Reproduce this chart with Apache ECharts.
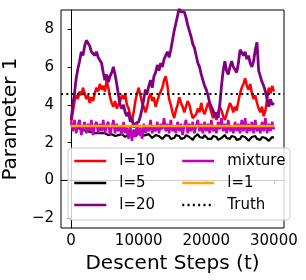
<!DOCTYPE html>
<html><head><meta charset="utf-8">
<script src="https://cdn.jsdelivr.net/npm/echarts@6/dist/echarts.min.js"></script>
<style>html,body{margin:0;padding:0;background:#fff}#c{width:306px;height:280px}</style>
</head><body><div id="c"></div>
<script>
// x grid step (descent steps) for sampled curves
const stepT = 250;
const xTicks = [0, 10000, 20000, 30000];
const yTicks = [-2, 0, 2, 4, 6, 8];
const seriesNames = ['l=10', 'l=5', 'l=20', 'mixture', 'l=1', 'Truth'];

const l10 = [3.1,3.6,4.2,4.5,4.3,4.7,4.5,4.9,4.6,4.3,4.5,4.1,4.4,4.2,4.6,4.9,4.7,5.1,4.8,5.0,
  4.7,5.3,4.9,4.4,4.1,3.9,4.2,3.8,3.7,4.2,4.5,4.3,4.6,4.0,3.8,3.4,3.2,3.6,4.2,4.6,
  4.9,4.5,4.1,3.9,3.6,3.9,4.4,4.6,4.2,4.4,3.9,4.2,4.5,4.6,4.9,5.3,5.5,5.0,4.3,4.0,
  3.6,3.3,3.7,4.0,4.4,4.1,3.9,3.6,3.9,4.2,4.0,3.6,3.3,3.2,3.5,3.8,3.6,4.1,3.7,3.5,
  3.8,4.1,3.9,3.6,3.3,3.5,3.2,3.6,3.9,3.7,3.4,3.2,3.5,3.8,4.1,3.9,3.6,3.9,3.7,4.2,
  4.6,4.9,5.1,5.4,5.0,4.8,5.1,4.6,4.3,4.5,4.1,3.8,3.6,3.9,3.4,3.7,4.3,4.9,4.6,5.0,4.7];

const l5 = [2.9,2.9,2.85,2.8,2.8,2.75,2.7,2.7,2.65,2.6,2.6,2.6,2.55,2.55,2.5,2.5,2.5,2.45,2.5,2.45,
  2.5,2.45,2.4,2.5,2.45,2.4,2.35,2.45,2.4,2.5,2.45,2.35,2.3,2.4,2.45,2.5,2.4,2.3,2.35,2.45,
  2.5,2.45,2.35,2.3,2.4,2.5,2.45,2.35,2.25,2.3,2.4,2.45,2.35,2.25,2.2,2.3,2.4,2.45,2.35,2.2,
  2.15,2.25,2.4,2.45,2.35,2.2,2.15,2.25,2.4,2.45,2.3,2.2,2.15,2.3,2.4,2.45,2.3,2.2,2.25,2.4,
  2.35,2.2,2.1,2.2,2.35,2.4,2.3,2.15,2.1,2.25,2.35,2.4,2.25,2.15,2.2,2.35,2.4,2.3,2.15,2.1,
  2.2,2.35,2.4,2.3,2.2,2.1,2.15,2.3,2.4,2.35,2.2,2.1,2.15,2.3,2.35,2.25,2.15,2.1,2.2,2.3,2.25];

const l20 = [3.2,4.0,4.6,5.4,5.9,6.3,6.8,6.6,7.1,7.4,7.3,7.1,6.8,6.9,6.6,6.8,6.5,6.6,6.2,5.7,
  5.3,5.6,5.2,5.5,5.7,6.0,5.6,5.1,4.5,4.0,3.8,4.0,3.6,3.4,3.6,3.1,3.3,2.8,3.0,2.9,
  3.1,3.4,3.8,4.3,4.8,4.6,5.0,5.3,4.9,5.5,5.7,6.1,5.8,6.2,6.0,6.4,6.3,6.8,6.5,6.9,
  7.4,7.9,8.3,8.7,9.1,8.9,8.8,8.9,8.6,8.2,7.9,7.6,7.2,7.0,6.6,6.2,6.0,5.6,5.3,5.0,
  4.8,4.5,4.1,4.0,3.7,3.4,3.6,3.3,4.0,5.0,5.8,6.3,5.8,5.6,6.0,6.3,6.0,5.9,5.7,6.2,
  6.9,7.0,6.6,6.8,6.4,6.6,6.2,6.0,6.3,6.9,7.3,5.8,5.5,5.2,5.0,4.7,4.3,3.9,4.3,4.0,4.1];

const mixture = [3.1,2.6,3.2,2.5,2.9,3.2,2.4,2.8,3.1,2.5,3.0,2.6,3.2,2.4,2.9,3.1,2.5,3.0,2.6,3.2,
  2.5,2.9,3.1,2.4,2.8,3.2,2.5,3.0,2.6,2.9,2.4,3.1,2.5,2.8,2.2,2.9,2.1,2.7,2.3,3.0,
  2.4,2.8,2.2,3.0,2.5,2.9,2.6,3.2,2.5,2.9,2.6,3.1,2.5,3.0,2.7,3.3,2.6,3.0,2.5,3.2,
  2.6,2.9,2.5,3.1,2.6,3.0,2.4,2.9,3.2,2.5,3.0,2.6,3.1,2.5,2.9,3.2,2.6,3.0,2.5,3.1,
  2.6,3.0,2.5,3.2,2.6,2.9,2.5,3.1,2.7,3.3,2.6,3.0,2.5,3.2,2.6,2.9,2.5,3.1,2.6,3.0,
  2.5,3.2,2.6,3.3,2.5,3.0,2.6,3.1,2.5,3.2,2.6,2.9,2.5,3.1,2.6,3.3,2.5,3.0,2.6,3.1,2.7];

const l1T = [0, 5000, 10000, 15000, 20000, 25000, 30000];
const l1 = [2.88, 2.88, 2.88, 2.88, 2.88, 2.88, 2.88];
const truthValue = 4.6;

function pairs(vals, step) { return vals.map((v, i) => [i * step, v]); }
function pairsT(ts, vals) { return ts.map((t, i) => [t, vals[i]]); }

const font = 'DejaVu Sans';
const chart = echarts.init(document.getElementById('c'), null, {renderer: 'canvas'});
function line(name, data, color, width) {
  return {name, type: 'line', data, showSymbol: false, symbol: 'none', animation: false,
    lineStyle: {color, width}, itemStyle: {color}, clip: true};
}
const legendCommon = {orient: 'vertical',
  itemWidth: 32, itemHeight: 16, itemGap: 6, lineStyle: {width: 2.5},
  itemStyle: {opacity: 0},
  textStyle: {fontFamily: font, fontSize: 15, color: '#000', lineHeight: 16, padding: [0, 0, 0, 8]}};
chart.setOption({
  animation: false,
  grid: {left: 61, right: 22, top: 10, bottom: 52, show: true, borderColor: '#000', borderWidth: 1,
    backgroundColor: 'transparent', containLabel: false, outerBoundsMode: 'none'},
  xAxis: {type: 'value', min: -1500, max: 31500,
    name: 'Descent Steps (t)', nameLocation: 'middle', nameGap: 24,
    nameTextStyle: {fontFamily: font, fontSize: 20, color: '#000'},
    splitLine: {show: false},
    axisLine: {show: true, lineStyle: {color: '#000', width: 1}},
    axisTick: {show: true, length: 3.5, lineStyle: {color: '#000'}, customValues: xTicks},
    axisLabel: {fontFamily: font, fontSize: 15, color: '#000', margin: 6, customValues: xTicks,
      formatter: v => String(v)}},
  yAxis: {type: 'value', min: -2.5, max: 9,
    name: 'Parameter 1', nameLocation: 'middle', nameGap: 27, nameRotate: 90,
    nameTextStyle: {fontFamily: font, fontSize: 20, color: '#000'},
    splitLine: {show: false},
    axisLine: {show: true, lineStyle: {color: '#000', width: 1}},
    axisTick: {show: true, length: 3.5, lineStyle: {color: '#000'}, customValues: yTicks},
    axisLabel: {fontFamily: font, fontSize: 15, color: '#000', margin: 7, customValues: yTicks,
      formatter: v => (v < 0 ? '\u2212' + Math.abs(v) : String(v))}},
  legend: [
    Object.assign({data: seriesNames.slice(0, 3), left: 68, top: 148, z: 10,
      padding: [5, 135, 7, 5], backgroundColor: 'rgba(255,255,255,0.8)',
      borderColor: '#cccccc', borderWidth: 1, borderRadius: 4}, legendCommon),
    Object.assign({data: seriesNames.slice(3), left: 181, top: 153, z: 11, padding: 0}, legendCommon)
  ],
  series: [
    line('l=10', pairs(l10, stepT), '#ff0000', 2.5),
    line('l=5', pairs(l5, stepT), '#000000', 2.2),
    line('l=20', pairs(l20, stepT), '#800080', 2.8),
    line('mixture', pairs(mixture, stepT), '#bf00bf', 2.5),
    line('l=1', pairsT(l1T, l1), '#ffa500', 2.5),
    {name: 'Truth', type: 'line', data: [], symbol: 'none', animation: false,
      lineStyle: {color: '#000', width: 2, type: [2, 3.3]}, itemStyle: {color: '#000'},
      markLine: {silent: true, symbol: 'none', label: {show: false}, animation: false,
        lineStyle: {color: '#000', width: 2, type: [2, 3.3]},
        data: [{yAxis: truthValue}]}}
  ]
});
</script></body></html>
